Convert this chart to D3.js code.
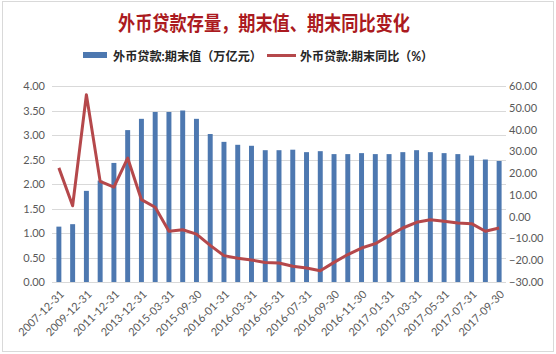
<!DOCTYPE html>
<html>
<head>
<meta charset="utf-8">
<script src="https://cdn.jsdelivr.net/npm/d3@7"></script>
<style>
  body { margin: 0; background: #fff; }
  text { font-family: Lato, "Noto Sans CJK SC", sans-serif; }
</style>
</head>
<body>
<div id="chart"></div>
<script>
// Data
var dates = [
  "2007-12-31", "2008-12-31", "2009-12-31", "2010-12-31", "2011-12-31",
  "2012-12-31", "2013-12-31", "2014-12-31", "2015-03-31", "2015-06-30",
  "2015-09-30", "2015-12-31", "2016-01-31", "2016-02-29", "2016-03-31",
  "2016-04-30", "2016-05-31", "2016-06-30", "2016-07-31", "2016-08-31",
  "2016-09-30", "2016-10-31", "2016-11-30", "2016-12-31", "2017-01-31",
  "2017-02-28", "2017-03-31", "2017-04-30", "2017-05-31", "2017-06-30",
  "2017-07-31", "2017-08-31", "2017-09-30"
];
var stockValues = [
  1.13, 1.18, 1.86, 2.07, 2.43, 3.10, 3.33, 3.47, 3.47, 3.50,
  3.33, 3.02, 2.86, 2.80, 2.78, 2.69, 2.69, 2.70, 2.65, 2.67,
  2.61, 2.61, 2.63, 2.61, 2.61, 2.65, 2.69, 2.65, 2.63, 2.61,
  2.58, 2.50, 2.47
];
var yoyValues = [
  22.4, 5.0, 56.0, 16.2, 13.6, 26.9, 7.8, 4.3, -6.7, -6.0,
  -8.0, -13.2, -17.9, -19.1, -19.9, -21.0, -21.3, -22.8, -23.6, -24.8,
  -21.0, -17.4, -14.4, -12.4, -8.7, -5.2, -2.6, -1.4, -2.1, -2.9,
  -3.2, -6.7, -5.2
];
var leftTicks = [0, 0.5, 1, 1.5, 2, 2.5, 3, 3.5, 4];
var rightTicks = [-30, -20, -10, 0, 10, 20, 30, 40, 50, 60];
var titleText = "外币贷款存量，期末值、期末同比变化";
var legendStock = "外币贷款:期末值（万亿元）";
var legendYoy = "外币贷款:期末同比（%）";

var W = 556, H = 354;
var plot = { left: 52, right: 506, top: 86, bottom: 282 };

var svg = d3.select("#chart").append("svg")
    .attr("width", W)
    .attr("height", H);

// outer frame
svg.append("rect")
    .attr("x", 2.5).attr("y", 1.5)
    .attr("width", 551).attr("height", 350)
    .attr("fill", "#fff")
    .attr("stroke", "#d9d9d9");

var x = d3.scaleBand()
    .domain(dates)
    .range([plot.left, plot.right])
    .paddingInner(0.64)
    .paddingOuter(0.32);

var yLeft = d3.scaleLinear().domain([0, 4]).range([plot.bottom, plot.top]);
var yRight = d3.scaleLinear().domain([-30, 60]).range([plot.bottom, plot.top]);

// gridlines
svg.append("g")
    .selectAll("line")
    .data(leftTicks)
    .enter()
    .append("line")
    .attr("x1", plot.left)
    .attr("x2", plot.right)
    .attr("y1", function(d) { return Math.round(yLeft(d)) + 0.5; })
    .attr("y2", function(d) { return Math.round(yLeft(d)) + 0.5; })
    .attr("stroke", "#d9d9d9");

// bars
svg.append("g")
    .selectAll("rect")
    .data(stockValues)
    .enter()
    .append("rect")
    .attr("x", function(d, i) { return x(dates[i]); })
    .attr("y", function(d) { return yLeft(d); })
    .attr("width", x.bandwidth())
    .attr("height", function(d) { return plot.bottom - yLeft(d); })
    .attr("fill", "#4d78b0");

// line
var line = d3.line()
    .x(function(d, i) { return x(dates[i]) + x.bandwidth() / 2; })
    .y(function(d) { return yRight(d); });

svg.append("path")
    .datum(yoyValues)
    .attr("d", line)
    .attr("fill", "none")
    .attr("stroke", "#b5484b")
    .attr("stroke-width", 3)
    .attr("stroke-linejoin", "round");

// left axis
var leftAxis = d3.axisLeft(yLeft)
    .tickValues(leftTicks)
    .tickSize(0)
    .tickPadding(7)
    .tickFormat(d3.format(".2f"));
var gl = svg.append("g")
    .attr("transform", "translate(" + plot.left + ",0)")
    .call(leftAxis);
gl.select(".domain").remove();
gl.selectAll("text").attr("font-size", "11px").attr("fill", "#595959")
    .attr("font-family", "Lato, sans-serif");

// right axis
var rightAxis = d3.axisRight(yRight)
    .tickValues(rightTicks)
    .tickSize(0)
    .tickPadding(3)
    .tickFormat(d3.format(".2f"));
var gr = svg.append("g")
    .attr("transform", "translate(" + plot.right + ",0)")
    .call(rightAxis);
gr.select(".domain").remove();
gr.selectAll("text").attr("font-size", "11px").attr("fill", "#595959")
    .attr("font-family", "Lato, sans-serif");

// x axis (every other label)
var xAxis = d3.axisBottom(x)
    .tickValues(dates.filter(function(d, i) { return i % 2 === 0; }))
    .tickSize(0)
    .tickPadding(0);
var gx = svg.append("g")
    .attr("transform", "translate(0," + plot.bottom + ")")
    .call(xAxis);
gx.select(".domain").remove();
gx.selectAll("text")
    .attr("font-size", "11px")
    .attr("fill", "#595959")
    .attr("font-family", "Lato, sans-serif")
    .attr("text-anchor", "end")
    .attr("dy", "0")
    .attr("transform", "translate(6,13) rotate(-45)");

// title
svg.append("text")
    .attr("x", 118)
    .attr("y", 31)
    .attr("font-family", "'Noto Sans CJK SC', sans-serif")
    .attr("font-size", "20px")
    .attr("font-weight", "bold")
    .attr("fill", "#ab1a20")
    .attr("textLength", 292)
    .attr("lengthAdjust", "spacingAndGlyphs")
    .text(titleText);

// legend
var legend = svg.append("g");
legend.append("rect")
    .attr("x", 83).attr("y", 52)
    .attr("width", 24).attr("height", 6)
    .attr("fill", "#4d78b0");
legend.append("text")
    .attr("x", 113).attr("y", 61)
    .attr("font-family", "'Noto Sans CJK SC', sans-serif")
    .attr("font-size", "12.5px")
    .attr("font-weight", "bold")
    .attr("fill", "#262626")
    .attr("textLength", 149)
    .attr("lengthAdjust", "spacingAndGlyphs")
    .text(legendStock);
legend.append("line")
    .attr("x1", 267).attr("x2", 296)
    .attr("y1", 55.5).attr("y2", 55.5)
    .attr("stroke", "#b5484b")
    .attr("stroke-width", 3);
legend.append("text")
    .attr("x", 300).attr("y", 61)
    .attr("font-family", "'Noto Sans CJK SC', sans-serif")
    .attr("font-size", "12.5px")
    .attr("font-weight", "bold")
    .attr("fill", "#262626")
    .attr("textLength", 133)
    .attr("lengthAdjust", "spacingAndGlyphs")
    .text(legendYoy);
</script>
</body>
</html>
